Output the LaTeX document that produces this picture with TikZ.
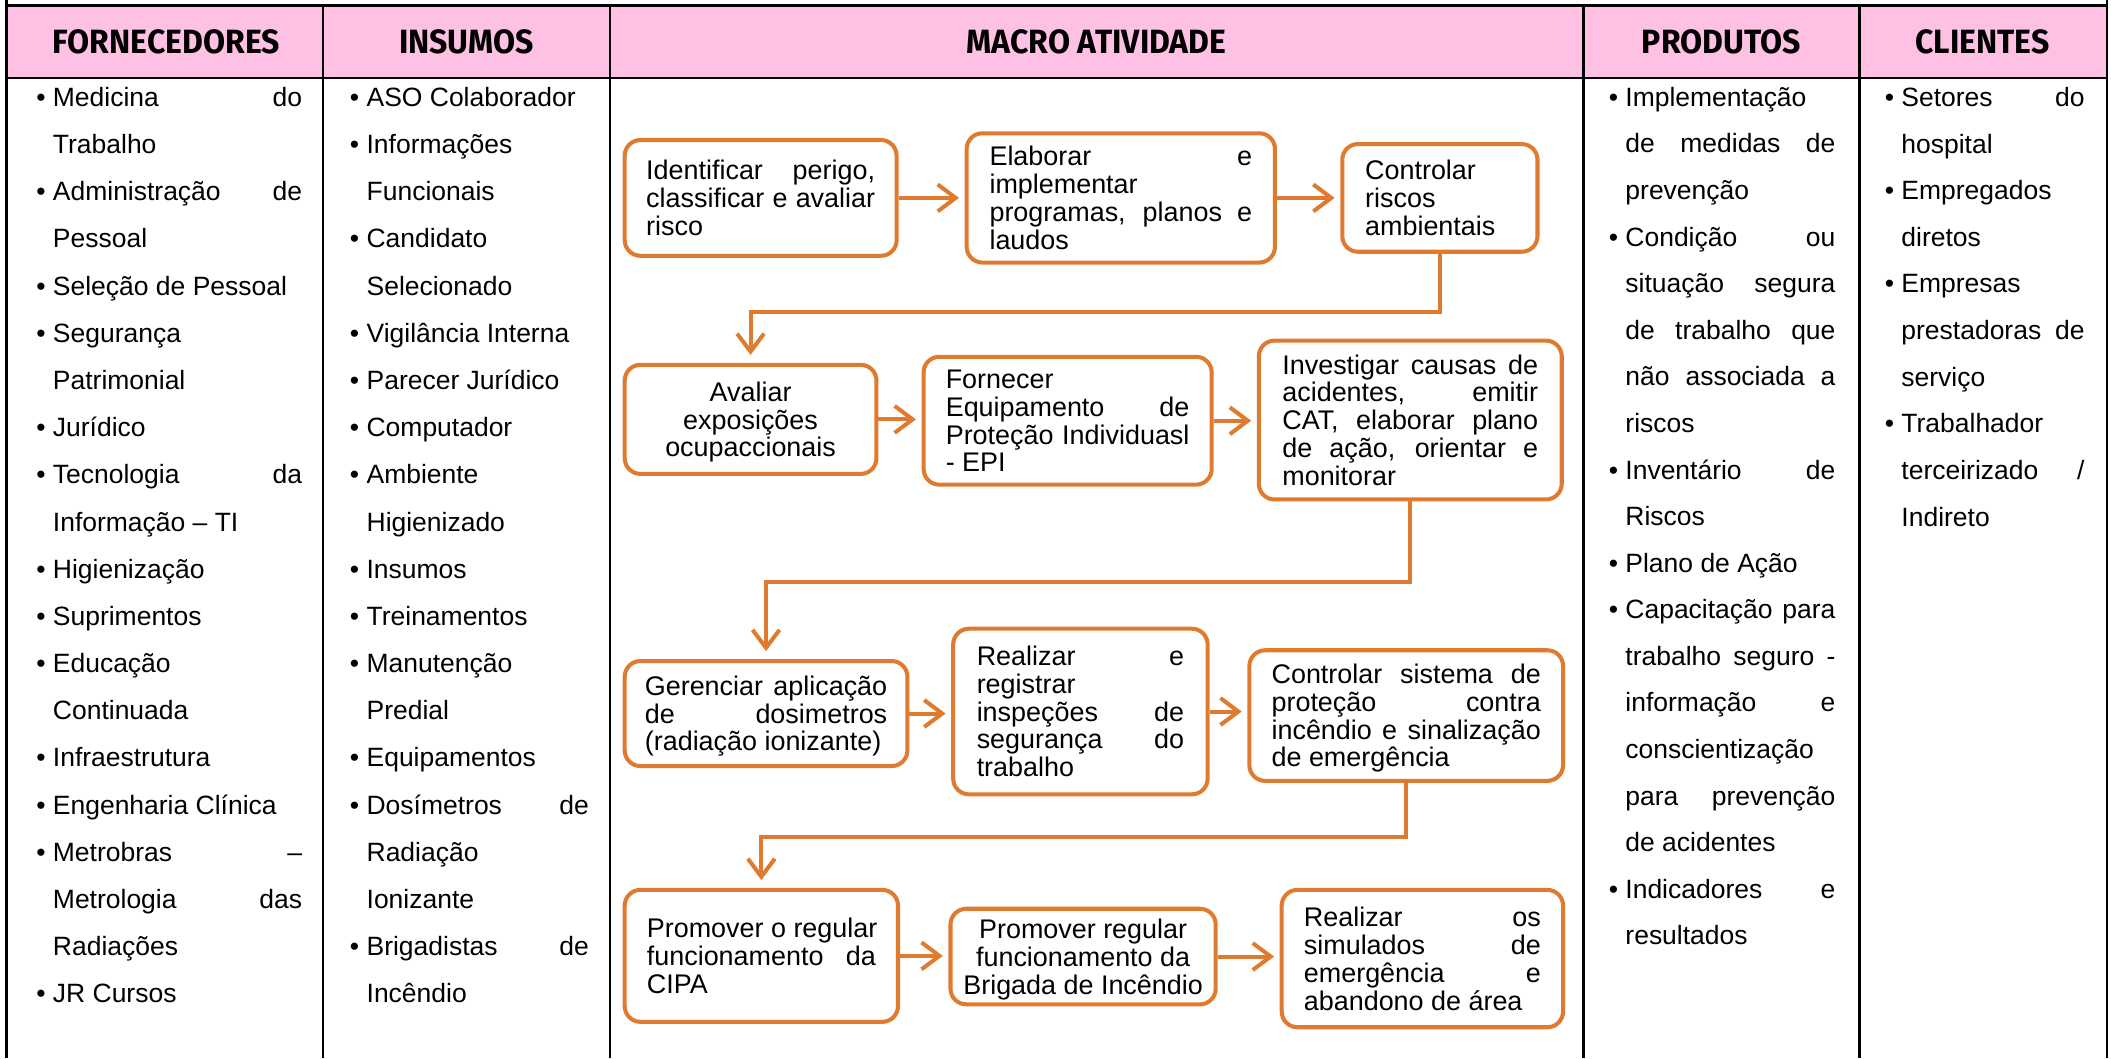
\documentclass[tikz,border=0pt]{standalone}
\usepackage{fontspec}
\setmainfont{Liberation Sans}
\newfontfamily\hdrfont{Fira Sans}
\usetikzlibrary{arrows.meta}
\definecolor{hdrpink}{RGB}{255,193,227}
\definecolor{flow}{RGB}{224,122,47}
\newlength\cw
\newcommand\J[1]{{\spaceskip=\fontdimen2\font plus 1fil\makebox[\cw][s]{#1}}}
\newcommand\B{\leavevmode\llap{\textbullet\hspace{3.3pt}}}
\newcommand\HT[1]{\scalebox{0.95}[1]{#1}}
\newcommand\BT[2]{\setlength\cw{#1}\raisebox{0pt}[\dimexpr\height+3.6pt\relax][\depth]{\begin{tabular}{@{}p{\cw}@{}}#2\end{tabular}}}
\newcommand\BC[1]{\raisebox{0pt}[\dimexpr\height+3.6pt\relax][\depth]{\begin{tabular}{@{}c@{}}#1\end{tabular}}}
\begin{document}
\begin{tikzpicture}[x=0.6pt,y=-0.6pt,
  grid/.style={line width=1.2pt, black},
  hdr/.style={font=\hdrfont\bfseries\fontsize{15}{17}\selectfont, inner sep=0},
  col/.style={anchor=base west, inner sep=0, font=\fontsize{11.8}{14}\selectfont},
  bx/.style={draw=flow, line width=1.8pt, rounded corners=7pt, fill=white, inner sep=0,
    font=\fontsize{12}{12.3}\selectfont},
  flowarr/.style={draw=flow, line width=1.8pt, -{Straight Barb[length=8pt,width=12pt]}, shorten >=2.5pt},
  downarr/.style={flowarr, shorten >=3.5pt}
]
\useasboundingbox (0,0) rectangle (1568,786);
% header band and grid
\fill[hdrpink] (5,4) rectangle (1565,58);
\draw[grid] (5,4) -- (1565,4);
\draw[grid] (5,58) -- (1565,58);
\draw[grid] (5,0) -- (5,786);
\draw[grid] (240,4) -- (240,786);
\draw[grid] (453,4) -- (453,786);
\draw[grid] (1176,4) -- (1176,786);
\draw[grid] (1381,4) -- (1381,786);
\draw[grid] (1565,0) -- (1565,786);
% headers
\node[hdr] (hf) at (123.5,31) {\HT{FORNECEDORES}};
\node[hdr] (hi) at (346.5,31) {\HT{INSUMOS}};
\node[hdr] (hm) at (814.5,31) {\HT{MACRO ATIVIDADE}};
\node[hdr] (hp) at (1278.5,31) {\HT{PRODUTOS}};
\node[hdr] (hc) at (1472.5,31) {\HT{CLIENTES}};
% FORNECEDORES
\setlength\cw{111pt}
\foreach \txt [count=\i] in {{\B\J{Medicina do}},{Trabalho},{\B\J{Administração de}},{Pessoal},{\B Seleção de Pessoal},{\B Segurança},{Patrimonial},{\B Jurídico},{\B\J{Tecnologia da}},{Informação – TI},{\B Higienização},{\B Suprimentos},{\B Educação},{Continuada},{\B Infraestrutura},{\B Engenharia Clínica},{\B\J{Metrobras –}},{\J{Metrologia das}},{Radiações},{\B JR Cursos}}
  \node[col] (f\i) at (39,{79+35.05*(\i-1)}) {\txt};
% INSUMOS
\setlength\cw{99pt}
\foreach \txt [count=\i] in {{\B ASO Colaborador},{\B Informações},{Funcionais},{\B Candidato},{Selecionado},{\B Vigilância Interna},{\B Parecer Jurídico},{\B Computador},{\B Ambiente},{Higienizado},{\B Insumos},{\B Treinamentos},{\B Manutenção},{Predial},{\B Equipamentos},{\B\J{Dosímetros de}},{Radiação},{Ionizante},{\B\J{Brigadistas de}},{Incêndio}}
  \node[col] (s\i) at (272,{79+35.05*(\i-1)}) {\txt};
% PRODUTOS
\setlength\cw{93.6pt}
\foreach \txt [count=\i] in {{\B Implementação},{\J{de medidas de}},{prevenção},{\B\J{Condição ou}},{\J{situação segura}},{\J{de trabalho que}},{\J{não associada a}},{riscos},{\B\J{Inventário de}},{Riscos},{\B Plano de Ação},{\B\J{Capacitação para}},{\J{trabalho seguro -}},{\J{informação e}},{conscientização},{\J{para prevenção}},{de acidentes},{\B\J{Indicadores e}},{resultados}}
  \node[col] (p\i) at (1207,{79+34.6*(\i-1)}) {\txt};
% CLIENTES
\setlength\cw{81.6pt}
\foreach \txt [count=\i] in {{\B\J{Setores do}},{hospital},{\B Empregados},{diretos},{\B Empresas},{\J{prestadoras de}},{serviço},{\B Trabalhador},{\J{terceirizado /}},{Indireto}}
  \node[col] (c\i) at (1412,{79+34.65*(\i-1)}) {\txt};
% flow boxes
\node[bx, minimum width=121.2pt, minimum height=51.6pt] (A) at (565,147)
  {\BT{102pt}{\J{Identificar perigo,}\\\J{classificar e avaliar}\\risco}};
\node[bx, minimum width=137.4pt, minimum height=57.6pt] (B) at (832.5,147)
  {\BT{117pt}{\J{Elaborar e}\\implementar\\\J{programas, planos e}\\laudos}};
\node[bx, minimum width=87pt, minimum height=48pt] (C) at (1069.5,147)
  {\BT{66.6pt}{Controlar\\riscos\\ambientais}};
\node[bx, minimum width=112.2pt, minimum height=48.6pt] (D) at (557.5,311.5)
  {\BC{Avaliar\\exposições\\ocupaccionais}};
\node[bx, minimum width=128.4pt, minimum height=57pt] (E) at (793,312.5)
  {\BT{108.6pt}{Fornecer\\\J{Equipamento de}\\\J{Proteção Individuasl}\\- EPI}};
\node[bx, minimum width=135pt, minimum height=70.8pt] (F) at (1047.5,312)
  {\BT{114pt}{\J{Investigar causas de}\\\J{acidentes, emitir}\\\J{CAT, elaborar plano}\\\J{de ação, orientar e}\\monitorar}};
\node[bx, minimum width=126pt, minimum height=46.8pt] (G) at (569,530)
  {\BT{108pt}{\J{Gerenciar aplicação}\\\J{de dosimetros}\\(radiação ionizante)}};
\node[bx, minimum width=113.4pt, minimum height=73.8pt] (H) at (802.5,528.5)
  {\BT{92.4pt}{\J{Realizar e}\\registrar\\\J{inspeções de}\\\J{segurança do}\\trabalho}};
\node[bx, minimum width=139.8pt, minimum height=58.2pt] (I) at (1044.5,531.5)
  {\BT{120pt}{\J{Controlar sistema de}\\\J{proteção contra}\\\J{incêndio e sinalização}\\de emergência}};
\node[bx, minimum width=121.8pt, minimum height=58.8pt] (J) at (565.5,710)
  {\BT{102pt}{\J{Promover o regular}\\\J{funcionamento da}\\CIPA}};
\node[bx, minimum width=118.2pt, minimum height=42.6pt] (K) at (804.5,710.5)
  {\BC{Promover regular\\funcionamento da\\Brigada de Incêndio}};
\node[bx, minimum width=125.4pt, minimum height=61.2pt] (L) at (1056.5,712)
  {\BT{105.6pt}{\J{Realizar os}\\\J{simulados de}\\\J{emergência e}\\abandono de área}};
% connectors
\draw[flowarr] (A.east) -- (A.east -| B.west);
\draw[flowarr] (B.east) -- (B.east -| C.west);
\draw[downarr] (C.south) -- ++(0,43) -| (D.north);
\draw[flowarr] (D.east) -- (D.east -| E.west);
\draw[flowarr] (E.east) -- (E.east -| F.west);
\draw[downarr] (F.south) -- ++(0,60) -| (G.north);
\draw[flowarr] (G.east) -- (G.east -| H.west);
\draw[flowarr] (H.east) -- (H.east -| I.west);
\draw[downarr] (I.south) -- ++(0,40) -| (J.north);
\draw[flowarr] (J.east) -- (J.east -| K.west);
\draw[flowarr] (K.east) -- (K.east -| L.west);
\end{tikzpicture}
\end{document}
